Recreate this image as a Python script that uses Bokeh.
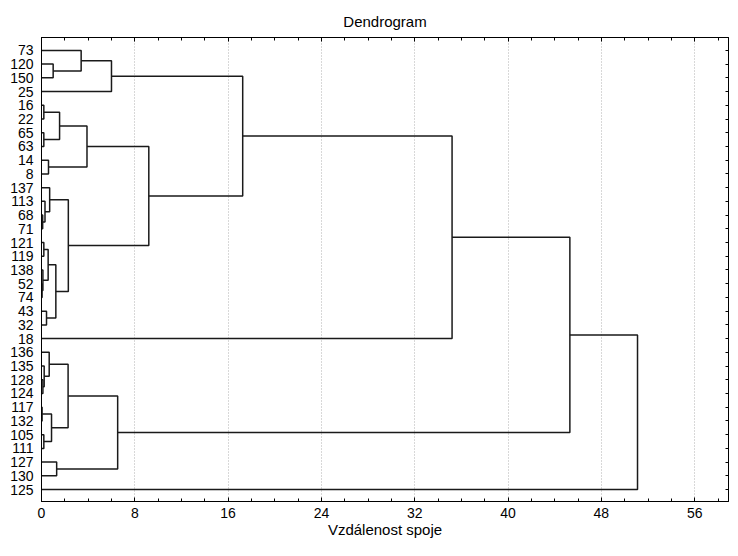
from bokeh.plotting import figure
from bokeh.models import Range1d, FixedTicker, LinearAxis, Grid
from bokeh.embed import file_html
from bokeh.resources import INLINE

# Leaves, top to bottom
leaf_order = ["73", "120", "150", "25", "16", "22", "65", "63", "14", "8",
              "137", "113", "68", "71", "121", "119", "138", "52", "74", "43",
              "32", "18", "136", "135", "128", "124", "117", "132", "105", "111",
              "127", "130", "125"]

# Merges: merge k joins merge_a[k] and merge_b[k] at distance merge_dist[k] -> cluster "m{k}"
merge_a = ["120", "73", "m1", "16", "65", "m3", "14", "m5",
           "68", "113", "137", "121", "52", "138", "m11", "43", "m14", "m10",
           "m7", "m2", "m19",
           "128", "135", "136", "117", "105", "m24", "m23", "127", "m27",
           "m20", "m30"]
merge_b = ["150", "m0", "25", "22", "63", "m4", "8", "m6",
           "71", "m8", "m9", "119", "74", "m12", "m13", "32", "m15", "m16",
           "m17", "m18", "18",
           "124", "m21", "m22", "132", "111", "m25", "m26", "130", "m28",
           "m29", "125"]
merge_dist = [1.0, 3.4, 6.0, 0.2, 0.2, 1.55, 0.6, 3.9,
              0.1, 0.3, 0.7, 0.2, 0.05, 0.12, 0.57, 0.43, 1.23, 2.3,
              9.2, 17.25, 35.2,
              0.12, 0.23, 0.66, 0.05, 0.2, 0.86, 2.28, 1.3, 6.53,
              45.3, 51.1]

x_major = [0, 8, 16, 24, 32, 40, 48, 56]
x_minor = [v for v in range(0, 61, 2)]
x_title = "Vzdálenost spoje"

FONT = "Liberation Sans"
n = len(leaf_order)

pos = {name: (0.0, float(i)) for i, name in enumerate(leaf_order)}
xs, ys = [], []
for k, (a, b, d) in enumerate(zip(merge_a, merge_b, merge_dist)):
    ha, ya = pos[a]
    hb, yb = pos[b]
    xs.append([ha, d, d, hb])
    ys.append([ya, ya, yb, yb])
    pos["m%d" % k] = (d, (ya + yb) / 2.0)

y_bottom = n - 1 + 0.87
p = figure(width=730, height=540, output_backend="svg", toolbar_location=None,
           x_range=Range1d(0, 58.9), y_range=Range1d(y_bottom, -0.94),
           title="Dendrogram", x_axis_location=None, y_axis_location=None)
p.min_border_left = 41
p.min_border_right = 2
p.min_border_top = 37
p.min_border_bottom = 37
p.background_fill_color = "white"
p.border_fill_color = "white"
p.outline_line_color = "black"
p.outline_line_width = 1

p.title.align = "center"
p.title.text_font = FONT
p.title.text_font_size = "15px"
p.title.text_font_style = "normal"
p.title.text_color = "black"
p.title.standoff = 16

tick_x = FixedTicker(ticks=x_major, minor_ticks=x_minor)
tick_y = FixedTicker(ticks=list(range(n)), minor_ticks=[])

bottom = LinearAxis(ticker=tick_x, axis_label=x_title)
bottom.major_tick_in = 4
bottom.major_tick_out = 0
bottom.minor_tick_in = 3
bottom.minor_tick_out = 0
bottom.major_label_standoff = 6
bottom.major_label_text_font = FONT
bottom.major_label_text_font_size = "14px"
bottom.major_label_text_color = "black"
bottom.axis_label_text_font = FONT
bottom.axis_label_text_font_size = "15px"
bottom.axis_label_text_font_style = "normal"
bottom.axis_label_text_color = "black"
bottom.axis_label_standoff = 0
p.add_layout(bottom, "below")

top = LinearAxis(ticker=tick_x)
top.major_tick_in = 4
top.major_tick_out = 0
top.minor_tick_in = 3
top.minor_tick_out = 0
top.major_label_overrides = {v: "" for v in x_major}
top.major_label_standoff = 0
top.major_label_text_font_size = "1px"
p.add_layout(top, "above")

left = LinearAxis(ticker=tick_y)
left.major_tick_in = 0
left.major_tick_out = 0
left.minor_tick_in = 0
left.minor_tick_out = 0
left.major_label_overrides = {i: lab for i, lab in enumerate(leaf_order)}
left.major_label_standoff = 8
left.major_label_text_font = FONT
left.major_label_text_font_size = "14px"
left.major_label_text_color = "black"
p.add_layout(left, "left")

right = LinearAxis(ticker=tick_y)
right.major_tick_in = 3
right.major_tick_out = 0
right.minor_tick_in = 0
right.minor_tick_out = 0
right.major_label_overrides = {i: "" for i in range(n)}
right.major_label_standoff = 0
right.major_label_text_font_size = "1px"
p.add_layout(right, "right")

p.xgrid.visible = False
p.ygrid.visible = False
g = Grid(dimension=0, ticker=FixedTicker(ticks=x_major[1:]), grid_line_color="#b0b0b0",
         grid_line_dash="1 2", grid_line_width=1)
p.add_layout(g)

p.multi_line(xs, ys, line_color="#1a1a1a", line_width=1.5)

open("out.html", "w").write(file_html(p, INLINE))
